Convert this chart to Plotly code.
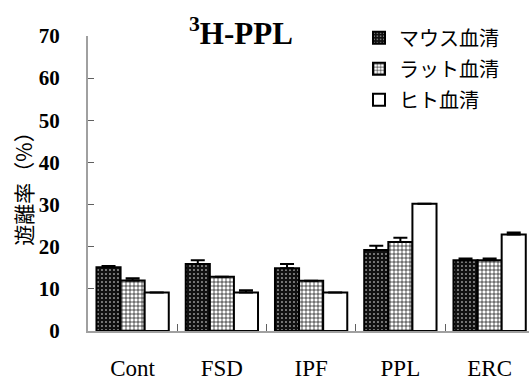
import plotly.graph_objects as go

categories = ["Cont", "FSD", "IPF", "PPL", "ERC"]
series_names = ["マウス血清", "ラット血清", "ヒト血清"]
mouse = [15.1, 15.9, 14.9, 19.2, 16.8]
mouse_err = [0.3, 0.9, 1.0, 1.0, 0.4]
rat = [12.0, 12.9, 11.9, 21.1, 16.8]
rat_err = [0.5, 0.0, 0.0, 1.0, 0.4]
human = [9.15, 9.15, 9.15, 30.2, 22.9]
human_err = [0.0, 0.5, 0.0, 0.0, 0.5]
y_ticks = [0, 10, 20, 30, 40, 50, 60, 70]

W, H = 529, 381
L, T, B = 88, 36, 50
cat_px = 89.25
x_hi = -0.5 + (W - L) / cat_px

patterns = [
    dict(shape=".", bgcolor="#111111", fgcolor="white", size=4, solidity=0.12, fillmode="replace"),
    dict(shape="+", bgcolor="white", fgcolor="black", size=4, solidity=0.3, fillmode="replace"),
    dict(shape="", bgcolor="white", fgcolor="white", fillmode="replace"),
]
fills = ["#111111", "white", "white"]

fig = go.Figure()
for i, (name, vals, errs) in enumerate(zip(series_names, [mouse, rat, human], [mouse_err, rat_err, human_err])):
    fig.add_trace(go.Bar(
        x=categories, y=vals, name=name, legendgroup=f"g{i}",
        marker=dict(color=fills[i], pattern=patterns[i], line=dict(color="black", width=2)),
        error_y=dict(type="data", array=errs, arrayminus=[0] * len(errs), symmetric=False,
                     color="black", thickness=2, width=7),
    ))

fig.update_layout(
    width=W, height=H,
    margin=dict(l=L, r=0, t=T, b=B, pad=0, autoexpand=False),
    paper_bgcolor="white", plot_bgcolor="white",
    barmode="group", bargap=0.19, bargroupgap=0,
    showlegend=True,
    legend=dict(
        x=(359 - L) / (W - L), y=1.06, xanchor="left", yanchor="top",
        font=dict(family="Noto Sans CJK JP", size=20, color="black"),
        traceorder="grouped", tracegroupgap=2,
        bgcolor="rgba(0,0,0,0)",
    ),
    xaxis=dict(
        range=[-0.5, x_hi], showline=True, linecolor="#a0a0a0", linewidth=2,
        ticks="inside", ticklen=7, tickcolor="#606060", tickwidth=1,
        tickson="boundaries", showgrid=False, zeroline=False, automargin=False,
        tickfont=dict(family="Liberation Serif", size=23, color="black"),
        ticklabelstandoff=15,
    ),
    yaxis=dict(
        range=[0, 70], tickvals=y_ticks, showline=True, linecolor="#a0a0a0", linewidth=2,
        ticks="inside", ticklen=6, tickcolor="#606060", tickwidth=1,
        showgrid=False, zeroline=False, automargin=False,
        tickfont=dict(family="Liberation Serif", size=21, color="black", weight="bold"),
        ticklabelstandoff=22,
        title=dict(text="遊離率（%）", font=dict(family="Noto Sans CJK JP", size=21, color="black"), standoff=0),
    ),
    annotations=[dict(
        text="<b><sup>3</sup>H-PPL</b>", xref="paper", yref="paper",
        x=(241 - L) / (W - L), y=(330.5 - 32) / 294.5, xanchor="center", yanchor="middle",
        showarrow=False, font=dict(family="Liberation Serif", size=31, color="black"),
    )],
)

fig.write_html("out.html")
